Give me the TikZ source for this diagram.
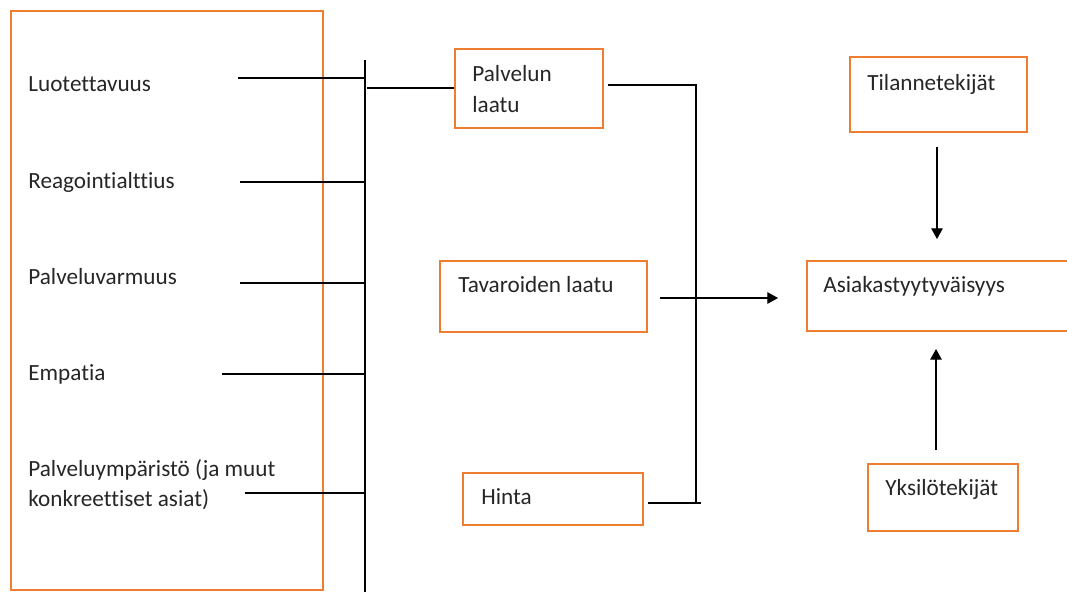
\documentclass[tikz,border=0pt]{standalone}
\usepackage{fontspec}
\setmainfont{Carlito}[Ligatures=NoCommon]
\usepackage{xcolor}
\usetikzlibrary{arrows.meta,fit}
\definecolor{boxorange}{RGB}{237,125,49}
\definecolor{textgray}{RGB}{38,38,38}

\begin{document}
\begin{tikzpicture}[x=0.02cm, y=-0.02cm,
    box/.style = {draw=boxorange, line width=1.3pt, inner sep=0pt},
    txt/.style = {anchor=base west, inner sep=0pt, text=textgray,
                  font=\fontsize{13.2}{16}\selectfont},
    conn/.style = {draw=black, line width=0.6pt},
    arr/.style = {conn, -{Triangle[width=6.5pt,length=6pt]}}
    ]
    \useasboundingbox (0,0) rectangle (1067,592);

    % service quality dimensions
    \node[box, fit={(11,11) (323,590)}] (dims) {};
    \node[txt] (luo) at (28,91)  {Luotettavuus};
    \node[txt] (rea) at (28,188) {Reagointialttius};
    \node[txt] (pva) at (28,284) {Palveluvarmuus};
    \node[txt] (emp) at (28,380) {Empatia};
    \node[txt] (ymp) at (28,476) {Palveluympäristö (ja muut};
    \node[txt] (kon) at (28,506) {konkreettiset asiat)};

    \coordinate (busT) at (365,60);
    \coordinate (busB) at (365,592);
    \draw[conn] (busT) -- (busB);
    \draw[conn] (238,78)  coordinate (c1) -- (c1 -| busT);
    \draw[conn] (240,182) coordinate (c2) -- (c2 -| busT);
    \draw[conn] (240,283) coordinate (c3) -- (c3 -| busT);
    \draw[conn] (222,374) coordinate (c4) -- (c4 -| busT);
    \draw[conn] (245,493) coordinate (c5) -- (c5 -| busT);

    % middle column
    \node[box, fit={(455,49) (603,128)}] (pal) {};
    \node[txt] at (472,81)  {Palvelun};
    \node[txt] at (472,112) {laatu};
    \node[box, fit={(440,261) (647,332)}] (tav) {};
    \node[txt] at (458,292) {Tavaroiden laatu};
    \node[box, fit={(463,473) (643,525)}] (hin) {};
    \node[txt] at (481,504) {Hinta};

    \draw[conn] (367,88) -- (pal.west |- 0,88);

    \coordinate (joinT) at (696,85);
    \coordinate (joinB) at (696,503);
    \draw[conn] ([xshift=2pt]pal.east |- joinT) -- (joinT) -- (joinB);
    \draw[conn] ([xshift=2pt]hin.east |- joinB) -- ([xshift=3pt]joinB);

    % satisfaction
    \node[box, fit={(807,261) (1080,331)}] (asi) {};
    \node[txt] at (823,292) {Asiakastyytyväisyys};
    \node[box, fit={(850,57) (1027,132)}] (til) {};
    \node[txt] at (867,90)  {Tilannetekijät};
    \node[box, fit={(868,464) (1018,531)}] (yks) {};
    \node[txt] at (885,495) {Yksilötekijät};

    \draw[arr] (660,298) -- (778,298);
    \draw[arr] (937,147) -- (937,239);
    \draw[arr] (936,450) -- (936,349);
\end{tikzpicture}
\end{document}
